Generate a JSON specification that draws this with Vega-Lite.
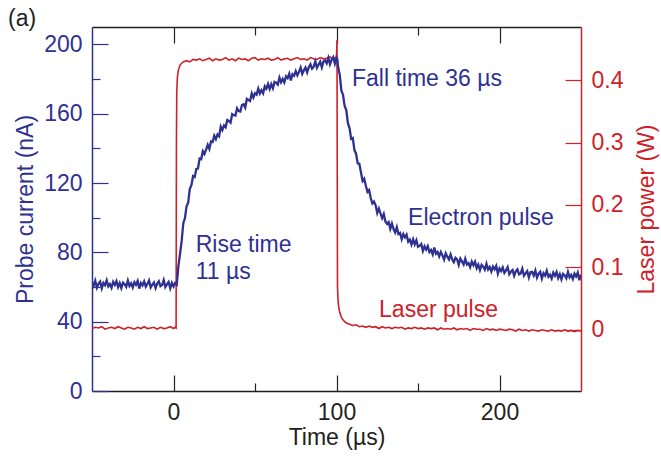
{
  "$schema": "https://vega.github.io/schema/vega-lite/v6.json",
  "width": 489,
  "height": 364,
  "autosize": {"type": "none"},
  "padding": {"left": 92, "top": 27, "right": 80, "bottom": 66},
  "config": {
    "view": {"stroke": null},
    "font": "Liberation Sans",
    "axis": {"grid": false, "labelFont": "Liberation Sans", "titleFont": "Liberation Sans", "labelFontSize": 23, "titleFontSize": 23, "titleFontWeight": "normal", "tickWidth": 1.2, "domainWidth": 1.5}
  },
  "title": {"text": "(a)", "anchor": "start", "frame": "group", "dx": -84, "dy": 8, "offset": 3, "fontSize": 23, "fontWeight": "normal", "color": "#231F20", "font": "Liberation Sans"},
  "datasets": {
    "e": [
      {"t": -50, "c": 62.7}, {"t": -49, "c": 60.7}, {"t": -48, "c": 63.6}, {"t": -47, "c": 59.6}, {"t": -46, "c": 61.9}, {"t": -45, "c": 63.1}, {"t": -44, "c": 59.2}, {"t": -43, "c": 62.4}, {"t": -42, "c": 61.0}, {"t": -41, "c": 63.9},
      {"t": -40, "c": 60.4}, {"t": -39, "c": 61.7}, {"t": -38, "c": 59.5}, {"t": -37, "c": 63.0}, {"t": -36, "c": 61.2}, {"t": -35, "c": 63.4}, {"t": -34, "c": 59.9}, {"t": -33, "c": 62.2}, {"t": -32, "c": 59.3}, {"t": -31, "c": 62.5},
      {"t": -30, "c": 61.6}, {"t": -29, "c": 60.1}, {"t": -28, "c": 63.7}, {"t": -27, "c": 60.6}, {"t": -26, "c": 62.1}, {"t": -25, "c": 59.7}, {"t": -24, "c": 62.8}, {"t": -23, "c": 61.3}, {"t": -22, "c": 63.5}, {"t": -21, "c": 59.1},
      {"t": -20, "c": 62.3}, {"t": -19, "c": 60.9}, {"t": -18, "c": 63.2}, {"t": -17, "c": 60.2}, {"t": -16, "c": 61.8}, {"t": -15, "c": 63.8}, {"t": -14, "c": 59.8}, {"t": -13, "c": 61.4}, {"t": -12, "c": 62.6}, {"t": -11, "c": 59.4},
      {"t": -10, "c": 62.0}, {"t": -9, "c": 63.3}, {"t": -8, "c": 60.5}, {"t": -7, "c": 61.1}, {"t": -6, "c": 64.0}, {"t": -5, "c": 60.0}, {"t": -4, "c": 61.5}, {"t": -3, "c": 62.9}, {"t": -2, "c": 59.3}, {"t": -1, "c": 62.4},
      {"t": 0, "c": 60.3}, {"t": 1, "c": 62.3}, {"t": 2, "c": 61.4}, {"t": 3, "c": 71.9}, {"t": 4, "c": 79.1}, {"t": 5, "c": 86.4}, {"t": 6, "c": 96.8}, {"t": 7, "c": 99.6}, {"t": 8, "c": 106.5}, {"t": 9, "c": 108.6},
      {"t": 10, "c": 116.6}, {"t": 11, "c": 118.8}, {"t": 12, "c": 124.0}, {"t": 13, "c": 123.5}, {"t": 14, "c": 128.1}, {"t": 15, "c": 128.3}, {"t": 16, "c": 134.1}, {"t": 17, "c": 133.7}, {"t": 18, "c": 138.4}, {"t": 19, "c": 136.8},
      {"t": 20, "c": 139.2}, {"t": 21, "c": 142.0}, {"t": 22, "c": 139.7}, {"t": 23, "c": 144.0}, {"t": 24, "c": 143.7}, {"t": 25, "c": 147.3}, {"t": 26, "c": 145.3}, {"t": 27, "c": 148.0}, {"t": 28, "c": 147.0}, {"t": 29, "c": 152.6},
      {"t": 30, "c": 150.6}, {"t": 31, "c": 153.2}, {"t": 32, "c": 152.1}, {"t": 33, "c": 156.3}, {"t": 34, "c": 155.8}, {"t": 35, "c": 154.8}, {"t": 36, "c": 159.7}, {"t": 37, "c": 159.1}, {"t": 38, "c": 158.9}, {"t": 39, "c": 163.1},
      {"t": 40, "c": 161.5}, {"t": 41, "c": 161.2}, {"t": 42, "c": 165.0}, {"t": 43, "c": 165.4}, {"t": 44, "c": 163.5}, {"t": 45, "c": 168.5}, {"t": 46, "c": 167.9}, {"t": 47, "c": 167.3}, {"t": 48, "c": 171.7}, {"t": 49, "c": 169.3},
      {"t": 50, "c": 171.8}, {"t": 51, "c": 171.0}, {"t": 52, "c": 174.5}, {"t": 53, "c": 171.6}, {"t": 54, "c": 173.5}, {"t": 55, "c": 171.8}, {"t": 56, "c": 175.8}, {"t": 57, "c": 174.5}, {"t": 58, "c": 177.2}, {"t": 59, "c": 174.2},
      {"t": 60, "c": 177.0}, {"t": 61, "c": 174.6}, {"t": 62, "c": 178.3}, {"t": 63, "c": 177.9}, {"t": 64, "c": 176.8}, {"t": 65, "c": 180.8}, {"t": 66, "c": 178.1}, {"t": 67, "c": 180.0}, {"t": 68, "c": 178.0}, {"t": 69, "c": 181.5},
      {"t": 70, "c": 180.5}, {"t": 71, "c": 183.1}, {"t": 72, "c": 179.2}, {"t": 73, "c": 182.8}, {"t": 74, "c": 181.9}, {"t": 75, "c": 184.6}, {"t": 76, "c": 182.1}, {"t": 77, "c": 184.1}, {"t": 78, "c": 186.6}, {"t": 79, "c": 183.0},
      {"t": 80, "c": 185.0}, {"t": 81, "c": 186.6}, {"t": 82, "c": 183.8}, {"t": 83, "c": 186.8}, {"t": 84, "c": 188.5}, {"t": 85, "c": 186.0}, {"t": 86, "c": 187.0}, {"t": 87, "c": 190.2}, {"t": 88, "c": 186.5}, {"t": 89, "c": 188.3},
      {"t": 90, "c": 190.0}, {"t": 91, "c": 186.7}, {"t": 92, "c": 190.1}, {"t": 93, "c": 190.7}, {"t": 94, "c": 189.0}, {"t": 95, "c": 192.2}, {"t": 96, "c": 188.5}, {"t": 97, "c": 191.1}, {"t": 98, "c": 192.6}, {"t": 99, "c": 188.9},
      {"t": 100, "c": 192.4}, {"t": 100.5, "c": 191.5},
      {"t": 101, "c": 186.9}, {"t": 102, "c": 182.4}, {"t": 103, "c": 173.3}, {"t": 104, "c": 170.9}, {"t": 105, "c": 164.4}, {"t": 106, "c": 162.1}, {"t": 107, "c": 154.5}, {"t": 108, "c": 151.7}, {"t": 109, "c": 145.4}, {"t": 110, "c": 145.9},
      {"t": 111, "c": 139.0}, {"t": 112, "c": 136.9}, {"t": 113, "c": 131.3}, {"t": 114, "c": 131.1}, {"t": 115, "c": 126.2}, {"t": 116, "c": 121.2}, {"t": 117, "c": 122.5}, {"t": 118, "c": 118.4}, {"t": 119, "c": 114.9}, {"t": 120, "c": 115.9},
      {"t": 121, "c": 111.3}, {"t": 122, "c": 108.2}, {"t": 123, "c": 109.3}, {"t": 124, "c": 107.1}, {"t": 125, "c": 102.7}, {"t": 126, "c": 105.3}, {"t": 127, "c": 102.4}, {"t": 128, "c": 99.7}, {"t": 129, "c": 102.1}, {"t": 130, "c": 97.8},
      {"t": 131, "c": 96.4}, {"t": 132, "c": 97.4}, {"t": 133, "c": 93.5}, {"t": 134, "c": 96.6}, {"t": 135, "c": 93.4}, {"t": 136, "c": 91.4}, {"t": 137, "c": 94.5}, {"t": 138, "c": 90.5}, {"t": 139, "c": 91.2}, {"t": 140, "c": 87.6},
      {"t": 141, "c": 90.5}, {"t": 142, "c": 88.6}, {"t": 143, "c": 90.2}, {"t": 144, "c": 86.1}, {"t": 145, "c": 87.3}, {"t": 146, "c": 84.5}, {"t": 147, "c": 87.5}, {"t": 148, "c": 84.6}, {"t": 149, "c": 87.0}, {"t": 150, "c": 83.2},
      {"t": 151, "c": 83.7}, {"t": 152, "c": 84.8}, {"t": 153, "c": 80.8}, {"t": 154, "c": 83.5}, {"t": 155, "c": 81.6}, {"t": 156, "c": 83.6}, {"t": 157, "c": 80.2}, {"t": 158, "c": 81.3}, {"t": 159, "c": 78.8}, {"t": 160, "c": 82.8},
      {"t": 161, "c": 79.2}, {"t": 162, "c": 80.2}, {"t": 163, "c": 77.6}, {"t": 164, "c": 80.2}, {"t": 165, "c": 78.2}, {"t": 166, "c": 75.8}, {"t": 167, "c": 79.4}, {"t": 168, "c": 77.5}, {"t": 169, "c": 75.9}, {"t": 170, "c": 78.8},
      {"t": 171, "c": 75.9}, {"t": 172, "c": 74.3}, {"t": 173, "c": 76.8}, {"t": 174, "c": 75.9}, {"t": 175, "c": 72.7}, {"t": 176, "c": 76.4}, {"t": 177, "c": 74.7}, {"t": 178, "c": 73.0}, {"t": 179, "c": 76.3}, {"t": 180, "c": 73.0},
      {"t": 181, "c": 73.8}, {"t": 182, "c": 71.4}, {"t": 183, "c": 74.7}, {"t": 184, "c": 72.6}, {"t": 185, "c": 74.6}, {"t": 186, "c": 70.9}, {"t": 187, "c": 72.9}, {"t": 188, "c": 69.8}, {"t": 189, "c": 72.8}, {"t": 190, "c": 71.7},
      {"t": 191, "c": 70.0}, {"t": 192, "c": 73.4}, {"t": 193, "c": 70.1}, {"t": 194, "c": 71.5}, {"t": 195, "c": 68.9}, {"t": 196, "c": 71.8}, {"t": 197, "c": 70.2}, {"t": 198, "c": 72.2}, {"t": 199, "c": 67.7}, {"t": 200, "c": 70.7},
      {"t": 201, "c": 69.2}, {"t": 202, "c": 71.3}, {"t": 203, "c": 68.2}, {"t": 204, "c": 69.6}, {"t": 205, "c": 71.5}, {"t": 206, "c": 67.3}, {"t": 207, "c": 68.8}, {"t": 208, "c": 69.8}, {"t": 209, "c": 66.5}, {"t": 210, "c": 69.0},
      {"t": 211, "c": 70.2}, {"t": 212, "c": 67.3}, {"t": 213, "c": 67.8}, {"t": 214, "c": 70.6}, {"t": 215, "c": 66.5}, {"t": 216, "c": 67.9}, {"t": 217, "c": 69.2}, {"t": 218, "c": 65.5}, {"t": 219, "c": 68.5}, {"t": 220, "c": 68.7},
      {"t": 221, "c": 66.6}, {"t": 222, "c": 69.5}, {"t": 223, "c": 65.4}, {"t": 224, "c": 67.7}, {"t": 225, "c": 68.8}, {"t": 226, "c": 64.9}, {"t": 227, "c": 68.0}, {"t": 228, "c": 66.6}, {"t": 229, "c": 69.4}, {"t": 230, "c": 65.9},
      {"t": 231, "c": 67.1}, {"t": 232, "c": 64.9}, {"t": 233, "c": 68.3}, {"t": 234, "c": 66.5}, {"t": 235, "c": 68.7}, {"t": 236, "c": 65.1}, {"t": 237, "c": 67.4}, {"t": 238, "c": 64.4}, {"t": 239, "c": 67.6}, {"t": 240, "c": 66.7},
      {"t": 241, "c": 65.1}, {"t": 242, "c": 68.7}, {"t": 243, "c": 65.6}, {"t": 244, "c": 67.0}, {"t": 245, "c": 64.6}, {"t": 246, "c": 67.7}, {"t": 247, "c": 66.1}, {"t": 248, "c": 68.3}, {"t": 249, "c": 63.9}, {"t": 250, "c": 67.1}
    ],
    "l": [
      {"t": -50, "p": 0.002}, {"t": -48, "p": 0.004}, {"t": -46, "p": 0.003}, {"t": -44, "p": 0.005}, {"t": -42, "p": 0.001}, {"t": -40, "p": 0.003}, {"t": -38, "p": 0.004}, {"t": -36, "p": 0.002}, {"t": -34, "p": 0.005}, {"t": -32, "p": 0.003},
      {"t": -30, "p": 0.001}, {"t": -28, "p": 0.004}, {"t": -26, "p": 0.003}, {"t": -24, "p": 0.001}, {"t": -22, "p": 0.004}, {"t": -20, "p": 0.002}, {"t": -18, "p": 0.005}, {"t": -16, "p": 0.002}, {"t": -14, "p": 0.003}, {"t": -12, "p": 0.004},
      {"t": -10, "p": 0.001}, {"t": -8, "p": 0.004}, {"t": -6, "p": 0.002}, {"t": -4, "p": 0.003}, {"t": -2, "p": 0.005}, {"t": 0, "p": 0.002}, {"t": 1, "p": 0.004}, {"t": 1.6, "p": 0.003},
      {"t": 1.8, "p": 0.3}, {"t": 2.0, "p": 0.38}, {"t": 2.4, "p": 0.405}, {"t": 3, "p": 0.416}, {"t": 4, "p": 0.424}, {"t": 5, "p": 0.427}, {"t": 6, "p": 0.429}, {"t": 8, "p": 0.431}, {"t": 10, "p": 0.429}, {"t": 12, "p": 0.433},
      {"t": 14, "p": 0.432}, {"t": 16, "p": 0.434}, {"t": 18, "p": 0.431}, {"t": 20, "p": 0.433}, {"t": 22, "p": 0.435}, {"t": 24, "p": 0.431}, {"t": 26, "p": 0.434}, {"t": 28, "p": 0.432}, {"t": 30, "p": 0.433}, {"t": 32, "p": 0.436},
      {"t": 34, "p": 0.432}, {"t": 36, "p": 0.434}, {"t": 38, "p": 0.431}, {"t": 40, "p": 0.435}, {"t": 42, "p": 0.433}, {"t": 44, "p": 0.434}, {"t": 46, "p": 0.431}, {"t": 48, "p": 0.435}, {"t": 50, "p": 0.436}, {"t": 52, "p": 0.432},
      {"t": 54, "p": 0.434}, {"t": 56, "p": 0.433}, {"t": 58, "p": 0.435}, {"t": 60, "p": 0.432}, {"t": 62, "p": 0.433}, {"t": 64, "p": 0.436}, {"t": 66, "p": 0.432}, {"t": 68, "p": 0.434}, {"t": 70, "p": 0.435}, {"t": 72, "p": 0.432},
      {"t": 74, "p": 0.434}, {"t": 76, "p": 0.436}, {"t": 78, "p": 0.433}, {"t": 80, "p": 0.434}, {"t": 82, "p": 0.432}, {"t": 84, "p": 0.436}, {"t": 86, "p": 0.434}, {"t": 88, "p": 0.433}, {"t": 90, "p": 0.436}, {"t": 92, "p": 0.434},
      {"t": 94, "p": 0.435}, {"t": 96, "p": 0.437}, {"t": 98, "p": 0.434}, {"t": 100, "p": 0.436},
      {"t": 100.3, "p": 0.464}, {"t": 100.6, "p": 0.07}, {"t": 101, "p": 0.045}, {"t": 101.5, "p": 0.034}, {"t": 102, "p": 0.028}, {"t": 103, "p": 0.02}, {"t": 104, "p": 0.016}, {"t": 105, "p": 0.013}, {"t": 106, "p": 0.011}, {"t": 108, "p": 0.009},
      {"t": 110, "p": 0.007}, {"t": 112, "p": 0.008}, {"t": 114, "p": 0.005}, {"t": 116, "p": 0.006}, {"t": 118, "p": 0.004}, {"t": 120, "p": 0.006}, {"t": 122, "p": 0.004}, {"t": 124, "p": 0.005}, {"t": 126, "p": 0.002}, {"t": 128, "p": 0.005},
      {"t": 130, "p": 0.003}, {"t": 132, "p": 0.004}, {"t": 134, "p": 0.002}, {"t": 136, "p": 0.004}, {"t": 138, "p": 0.003}, {"t": 140, "p": 0.004}, {"t": 142, "p": 0.001}, {"t": 144, "p": 0.003}, {"t": 146, "p": 0.002}, {"t": 148, "p": 0.004},
      {"t": 150, "p": 0.002}, {"t": 152, "p": 0.003}, {"t": 154, "p": 0.001}, {"t": 156, "p": 0.003}, {"t": 158, "p": 0.002}, {"t": 160, "p": 0.003}, {"t": 162, "p": 0.0}, {"t": 164, "p": 0.003}, {"t": 166, "p": 0.001}, {"t": 168, "p": 0.002},
      {"t": 170, "p": 0.001}, {"t": 172, "p": 0.003}, {"t": 174, "p": 0.0}, {"t": 176, "p": 0.002}, {"t": 178, "p": 0.001}, {"t": 180, "p": 0.002}, {"t": 182, "p": -0.001}, {"t": 184, "p": 0.002}, {"t": 186, "p": 0.001}, {"t": 188, "p": 0.001},
      {"t": 190, "p": -0.001}, {"t": 192, "p": 0.002}, {"t": 194, "p": 0.0}, {"t": 196, "p": 0.001}, {"t": 198, "p": -0.001}, {"t": 200, "p": 0.001}, {"t": 202, "p": 0.0}, {"t": 204, "p": -0.001}, {"t": 206, "p": 0.001}, {"t": 208, "p": 0.0},
      {"t": 210, "p": -0.002}, {"t": 212, "p": 0.001}, {"t": 214, "p": -0.001}, {"t": 216, "p": 0.0}, {"t": 218, "p": -0.002}, {"t": 220, "p": 0.0}, {"t": 222, "p": -0.001}, {"t": 224, "p": -0.002}, {"t": 226, "p": 0.0}, {"t": 228, "p": -0.001},
      {"t": 230, "p": -0.002}, {"t": 232, "p": 0.0}, {"t": 234, "p": -0.002}, {"t": 236, "p": -0.001}, {"t": 238, "p": -0.002}, {"t": 240, "p": 0.0}, {"t": 242, "p": -0.002}, {"t": 244, "p": -0.001}, {"t": 246, "p": -0.003}, {"t": 248, "p": -0.001},
      {"t": 250, "p": -0.002}
    ],
    "notes": [
      {"t": 13.6, "c": 80.4, "label": "Rise time", "series": "electron"},
      {"t": 13.6, "c": 64.6, "label": "11 µs", "series": "electron"},
      {"t": 109.5, "c": 176, "label": "Fall time 36 µs", "series": "electron"},
      {"t": 143.9, "c": 95.8, "label": "Electron pulse", "series": "electron"},
      {"t": 126.1, "c": 42.9, "label": "Laser pulse", "series": "laser"}
    ]
  },
  "resolve": {"scale": {"y": "independent"}, "axis": {"x": "independent", "y": "independent"}},
  "layer": [
    {
      "data": {"name": "l"},
      "mark": {"type": "line", "color": "#CE2029", "strokeWidth": 1.6, "clip": true},
      "encoding": {
        "x": {"field": "t", "type": "quantitative", "scale": {"domain": [-50, 250], "nice": false, "zero": false},
          "axis": {"orient": "top", "values": [0, 100, 200], "tickSize": -16, "labels": false, "title": null, "domainColor": "#231F20", "tickColor": "#231F20"}},
        "y": {"field": "p", "type": "quantitative", "scale": {"domain": [-0.098, 0.485], "nice": false, "zero": false},
          "axis": {"orient": "right", "values": [0, 0.1, 0.2, 0.3, 0.4], "format": "~g", "tickSize": -16, "labelPadding": 26, "title": "Laser power (W)", "titleAngle": 270, "titlePadding": 36, "domainColor": "#CE2029", "tickColor": "#CE2029", "labelColor": "#CE2029", "titleColor": "#CE2029"}}
      }
    },
    {
      "data": {"name": "e"},
      "mark": {"type": "line", "color": "#2E3192", "strokeWidth": 2.3, "clip": true},
      "encoding": {
        "x": {"field": "t", "type": "quantitative", "scale": {"domain": [-50, 250], "nice": false, "zero": false},
          "axis": {"orient": "bottom", "values": [0, 100, 200], "tickSize": -16, "labelPadding": 26, "title": "Time (µs)", "titlePadding": 2, "domainColor": "#231F20", "tickColor": "#231F20", "labelColor": "#231F20", "titleColor": "#231F20"}},
        "y": {"field": "c", "type": "quantitative", "scale": {"domain": [0, 210], "nice": false, "zero": false},
          "axis": {"orient": "left", "values": [0, 40, 80, 120, 160, 200], "tickSize": -16, "labelPadding": 26, "title": "Probe current (nA)", "titlePadding": 6, "domainColor": "#2E3192", "tickColor": "#2E3192", "labelColor": "#2E3192", "titleColor": "#2E3192"}}
      }
    },
    {
      "data": {"name": "e"},
      "mark": {"type": "point", "opacity": 0},
      "encoding": {
        "x": {"field": "t", "type": "quantitative", "scale": {"domain": [-50, 250], "nice": false, "zero": false},
          "axis": {"orient": "bottom", "values": [50, 150], "tickSize": -8, "labels": false, "domain": false, "title": null, "tickColor": "#231F20"}},
        "y": {"field": "c", "type": "quantitative", "scale": {"domain": [0, 210], "nice": false, "zero": false},
          "axis": {"orient": "left", "values": [20, 60, 100, 140, 180], "tickSize": -8, "labels": false, "domain": false, "title": null, "tickColor": "#2E3192"}}
      }
    },
    {
      "data": {"name": "e"},
      "mark": {"type": "point", "opacity": 0},
      "encoding": {
        "x": {"field": "t", "type": "quantitative", "scale": {"domain": [-50, 250], "nice": false, "zero": false},
          "axis": {"orient": "top", "values": [50, 150], "tickSize": -8, "labels": false, "domain": false, "title": null, "tickColor": "#231F20"}},
        "y": {"field": "c", "type": "quantitative", "scale": {"domain": [0, 210], "nice": false, "zero": false}, "axis": null}
      }
    },
    {
      "data": {"name": "notes"},
      "mark": {"type": "text", "align": "left", "baseline": "alphabetic", "fontSize": 23, "font": "Liberation Sans"},
      "encoding": {
        "x": {"field": "t", "type": "quantitative", "scale": {"domain": [-50, 250], "nice": false, "zero": false}, "axis": null},
        "y": {"field": "c", "type": "quantitative", "scale": {"domain": [0, 210], "nice": false, "zero": false}, "axis": null},
        "text": {"field": "label"},
        "color": {"field": "series", "type": "nominal", "scale": {"domain": ["electron", "laser"], "range": ["#2E3192", "#CE2029"]}, "legend": null}
      }
    }
  ]
}
